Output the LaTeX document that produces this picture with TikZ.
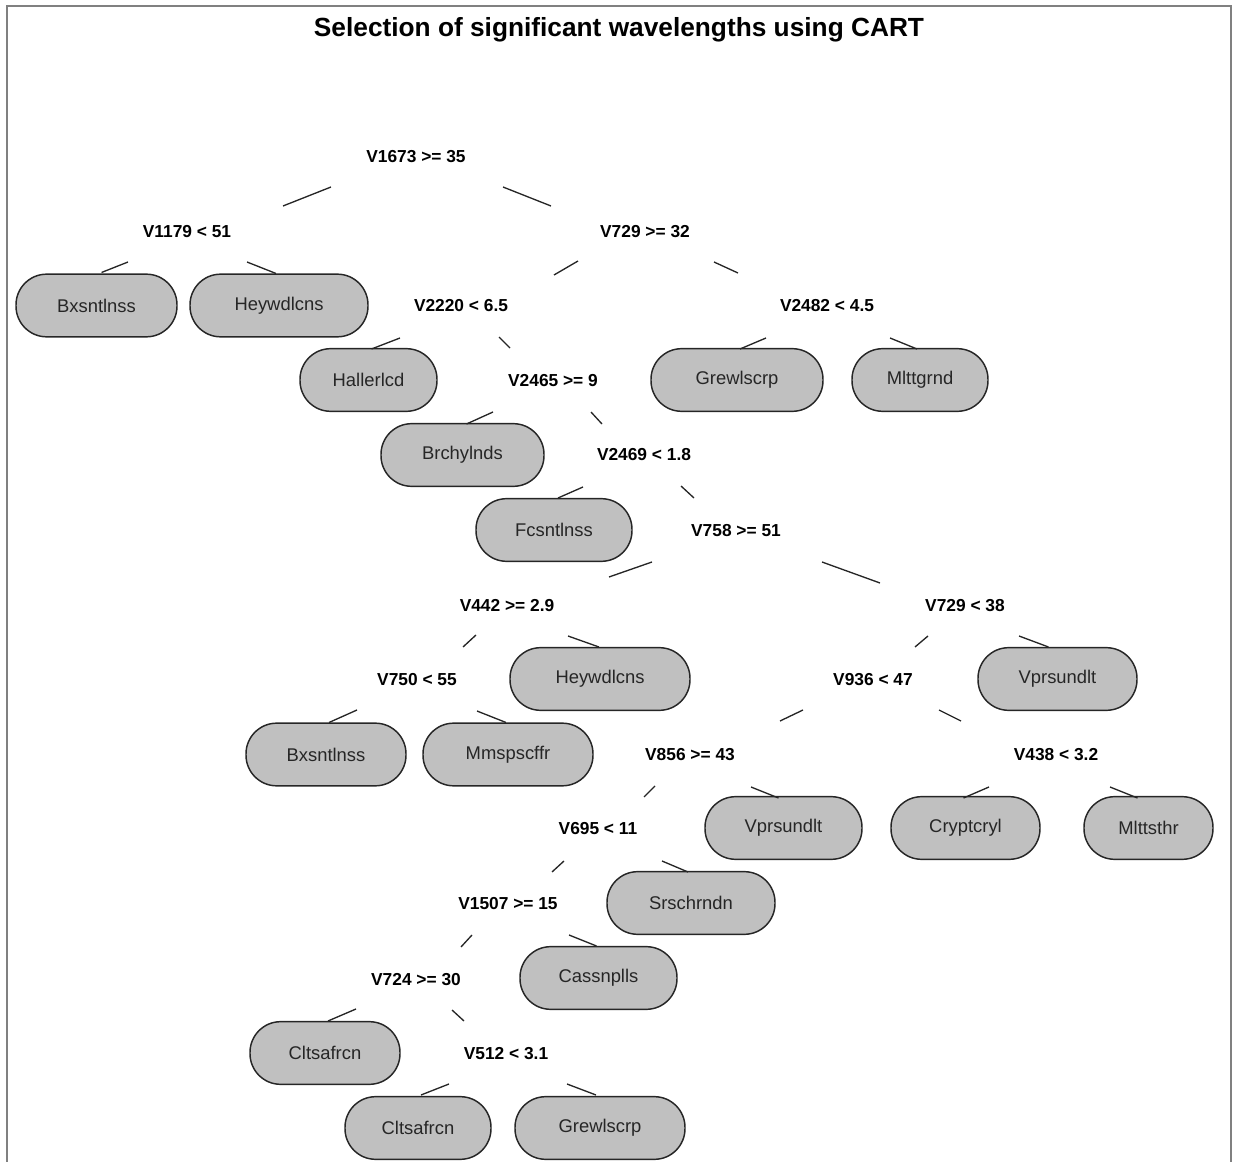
\documentclass[tikz,border=0pt]{standalone}
\usepackage{fontspec}
\setmainfont{Liberation Sans}
\usetikzlibrary{calc}
\definecolor{leafgray}{RGB}{192,192,192}
\begin{document}
\begin{tikzpicture}[x=0.75pt,y=-0.75pt,
  splitlbl/.style={font=\bfseries\fontsize{13}{15}\selectfont, inner sep=0pt},
  leafbox/.style={draw=black!85, line width=1.1pt, fill=leafgray, rounded corners=23pt,
    minimum height=47pt, minimum width=#1*0.75pt, inner sep=0pt,
    font=\fontsize{13.8}{16}\selectfont, text=black!85},
  edge/.style={draw=black!85, line width=1pt},
  framelines/.style={draw=black!50, line width=2pt}]
\useasboundingbox (0,0) rectangle (1233,1162);
\draw[framelines] (7,1162) -- (7,6) -- (1231,6) -- (1231,1162);
\node[font=\bfseries\fontsize{19.7}{22}\selectfont] (title) at (619,30) {Selection of significant wavelengths using CART};

% split labels
\node[splitlbl] (R) at (416,157) {V1673 >= 35};
\node[splitlbl] (A) at (187,232) {V1179 < 51};
\node[splitlbl] (B) at (645,232) {V729 >= 32};
\node[splitlbl] (C) at (461,306) {V2220 < 6.5};
\node[splitlbl] (D) at (827,306) {V2482 < 4.5};
\node[splitlbl] (E) at (553,381) {V2465 >= 9};
\node[splitlbl] (F) at (644,455) {V2469 < 1.8};
\node[splitlbl] (G) at (736,531) {V758 >= 51};
\node[splitlbl] (H) at (507,606) {V442 >= 2.9};
\node[splitlbl] (I) at (965,606) {V729 < 38};
\node[splitlbl] (J) at (417,680) {V750 < 55};
\node[splitlbl] (K) at (873,680) {V936 < 47};
\node[splitlbl] (L) at (690,755) {V856 >= 43};
\node[splitlbl] (M) at (1056,755) {V438 < 3.2};
\node[splitlbl] (N) at (598,829) {V695 < 11};
\node[splitlbl] (O) at (508,904) {V1507 >= 15};
\node[splitlbl] (P) at (416,980) {V724 >= 30};
\node[splitlbl] (Q) at (506,1054) {V512 < 3.1};

% leaves
\node[leafbox=161] (bx1) at (96.5,305.5) {Bxsntlnss};
\node[leafbox=178] (hey1) at (279,305.5) {Heywdlcns};
\node[leafbox=137] (hal) at (368.5,380) {Hallerlcd};
\node[leafbox=172] (grew1) at (737,380) {Grewlscrp};
\node[leafbox=136] (mltt) at (920,380) {Mlttgrnd};
\node[leafbox=163] (brch) at (462.5,455) {Brchylnds};
\node[leafbox=156] (fcs) at (554,530) {Fcsntlnss};
\node[leafbox=180] (hey2) at (600,679) {Heywdlcns};
\node[leafbox=159] (vpr1) at (1057.5,679) {Vprsundlt};
\node[leafbox=160] (bx2) at (326,754.5) {Bxsntlnss};
\node[leafbox=170] (mms) at (508,754.5) {Mmspscffr};
\node[leafbox=157] (vpr2) at (783.5,828) {Vprsundlt};
\node[leafbox=149] (cry) at (965.5,828) {Cryptcryl};
\node[leafbox=129] (mlts) at (1148.5,828) {Mlttsthr};
\node[leafbox=168] (srs) at (691,903) {Srschrndn};
\node[leafbox=157] (cas) at (598.5,978) {Cassnplls};
\node[leafbox=150] (cl1) at (325,1053) {Cltsafrcn};
\node[leafbox=146] (cl2) at (418,1128) {Cltsafrcn};
\node[leafbox=170] (grew2) at (600,1128) {Grewlscrp};

% connectors
\draw[edge] ($(R)+(-85,30)$) -- ($(A)+(96,-26)$);
\draw[edge] ($(R)+(87,30)$) -- ($(B)+(-94,-26)$);
\draw[edge] ($(A)+(-59,30)$) -- ($(bx1)+(5,-33)$);
\draw[edge] ($(A)+(60,30)$) -- ($(hey1)+(-3,-32)$);
\draw[edge] ($(B)+(-67,29)$) -- ($(C)+(93,-31)$);
\draw[edge] ($(B)+(69,30)$) -- ($(D)+(-89,-33)$);
\draw[edge] ($(C)+(-61,32)$) -- ($(hal)+(3,-31)$);
\draw[edge] ($(C)+(38,31)$) -- ($(E)+(-43,-33)$);
\draw[edge] ($(D)+(-61,32)$) -- ($(grew1)+(3,-31)$);
\draw[edge] ($(D)+(63,32)$) -- ($(mltt)+(-3,-31)$);
\draw[edge] ($(E)+(-60,31)$) -- ($(brch)+(4,-31)$);
\draw[edge] ($(E)+(38,31)$) -- ($(F)+(-42,-31)$);
\draw[edge] ($(F)+(-61,32)$) -- ($(fcs)+(4,-32)$);
\draw[edge] ($(F)+(37,31)$) -- ($(G)+(-42,-33)$);
\draw[edge] ($(G)+(-84,31)$) -- ($(H)+(102,-29)$);
\draw[edge] ($(G)+(86,31)$) -- ($(I)+(-85,-23)$);
\draw[edge] ($(H)+(-31,29)$) -- ($(J)+(46,-33)$);
\draw[edge] ($(H)+(61,30)$) -- ($(hey2)+(-1,-32)$);
\draw[edge] ($(I)+(-37,30)$) -- ($(K)+(42,-33)$);
\draw[edge] ($(I)+(54,30)$) -- ($(vpr1)+(-9,-32)$);
\draw[edge] ($(J)+(-60,30)$) -- ($(bx2)+(3,-32)$);
\draw[edge] ($(J)+(60,31)$) -- ($(mms)+(-2,-32)$);
\draw[edge] ($(K)+(-70,30)$) -- ($(L)+(90,-34)$);
\draw[edge] ($(K)+(66,30)$) -- ($(M)+(-95,-34)$);
\draw[edge] ($(L)+(-35,31)$) -- ($(N)+(46,-32)$);
\draw[edge] ($(L)+(61,32)$) -- ($(vpr2)+(-5,-30)$);
\draw[edge] ($(M)+(-67,32)$) -- ($(cry)+(-2,-30)$);
\draw[edge] ($(M)+(54,32)$) -- ($(mlts)+(-11,-30)$);
\draw[edge] ($(N)+(-34,32)$) -- ($(O)+(44,-32)$);
\draw[edge] ($(N)+(64,32)$) -- ($(srs)+(-3,-31)$);
\draw[edge] ($(O)+(-36,31)$) -- ($(P)+(45,-33)$);
\draw[edge] ($(O)+(61,31)$) -- ($(cas)+(-2,-32)$);
\draw[edge] ($(P)+(-60,29)$) -- ($(cl1)+(3,-32)$);
\draw[edge] ($(P)+(36,30)$) -- ($(Q)+(-42,-33)$);
\draw[edge] ($(Q)+(-57,30)$) -- ($(cl2)+(3,-33)$);
\draw[edge] ($(Q)+(61,30)$) -- ($(grew2)+(-4,-33)$);
\end{tikzpicture}
\end{document}
